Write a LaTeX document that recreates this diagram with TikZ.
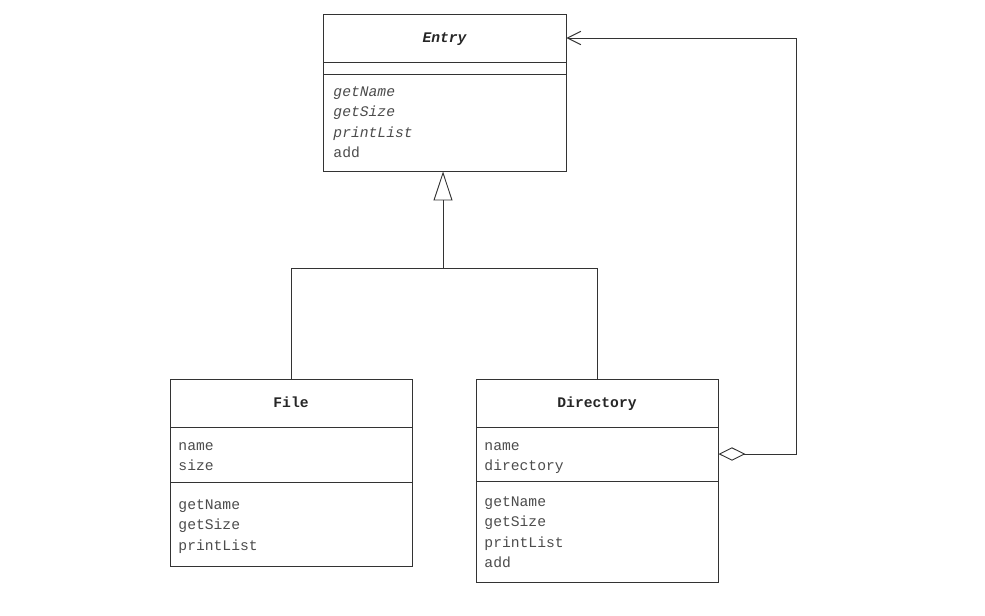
\documentclass[tikz,border=0pt]{standalone}
\usepackage{fontspec}
\setmonofont{Liberation Mono}
\usetikzlibrary{arrows.meta}
\begin{document}
\begin{tikzpicture}[x=0.75pt,y=-0.75pt,
  line width=0.7pt,
  box/.style={draw=black!80, rectangle, inner sep=0pt},
  txt/.style={anchor=north west, inner sep=0pt, font=\ttfamily\fontsize{11}{15.4}\selectfont, text=black!70, align=left},
  ttl/.style={anchor=base, inner sep=0pt, font=\ttfamily\bfseries\fontsize{11}{15}\selectfont, text=black!85},
  conn/.style={draw=black!80}
]
\useasboundingbox (0,0) rectangle (985,615);
% Entry
\node[box, minimum width=182.25pt, minimum height=117.75pt] (entry) at (444.5,92.5) {};
\draw[conn] (323,62) -- (566,62);
\draw[conn] (323,74) -- (566,74);
\node[ttl, font=\ttfamily\bfseries\itshape\fontsize{11}{15}\selectfont] (entryname) at (444.5,42) {Entry};
\node[txt] (entryops) at (333,86) {\itshape getName\\\itshape getSize\\\itshape printList\\add};
% File
\node[box, minimum width=181.5pt, minimum height=140.25pt] (file) at (291,472.5) {};
\draw[conn] (170,427) -- (412,427);
\draw[conn] (170,482) -- (412,482);
\node[ttl] (filename) at (291,407.5) {File};
\node[txt] (fileattr) at (178,442) {name\\size};
\node[txt] (fileops) at (178,499) {getName\\getSize\\printList};
% Directory
\node[box, minimum width=181.5pt, minimum height=152.25pt] (dir) at (597,480.5) {};
\draw[conn] (476,427) -- (718,427);
\draw[conn] (476,481) -- (718,481);
\node[ttl] (dirname) at (597,407.5) {Directory};
\node[txt] (dirattr) at (484,442) {name\\directory};
\node[txt] (dirops) at (484,496) {getName\\getSize\\printList\\add};
% connectors
\coordinate (junc) at (443,268.3);
\draw[conn] (file.north) |- (junc) -| (dir.north);
\draw[conn, -{Triangle[open, length=21.75pt, width=14.25pt, line width=0.7pt]}] (junc) -- (entry.south -| junc);
\coordinate (aggstart) at (718,454);
\coordinate (aggend) at (566,38);
\draw[conn, {Diamond[open, length=20.25pt, width=10pt, line width=0.7pt]}-{Straight Barb[length=10pt, width=10pt, line width=0.7pt]}]
  (dir.east |- aggstart) -- (796,454) |- (entry.east |- aggend);
\end{tikzpicture}
\end{document}
